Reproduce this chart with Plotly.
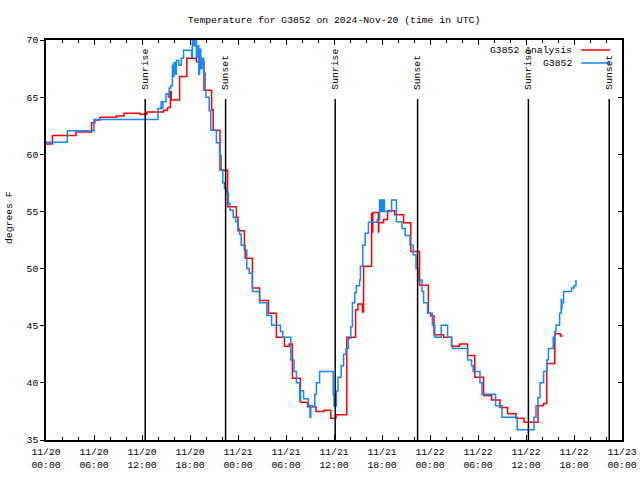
import pandas as pd
import plotly.graph_objects as go

BASE = pd.Timestamp("2024-11-20 00:00")

# Analysis series (step changes): hours since 11/20 00:00 UTC, degrees F
analysis_hours = [0, 0.8, 3.75, 5.7, 6.1, 6.75, 8.8, 9.75, 11.75, 12.6, 14.7, 15.2,
                  15.55, 15.65, 16.7, 17.6, 18.8, 19.75, 20.7, 20.9, 21.75, 22.7,
                  23.8, 24.0, 24.8, 24.9, 25.8, 26.7, 27.8, 28.8, 29.8, 30.4, 30.8,
                  31.8, 32.7, 33.75, 34.75, 35.6, 36.25, 37.6, 38.7, 39.0, 39.55,
                  39.7, 40.7, 40.75, 40.85, 41.55, 41.6, 42.2, 42.7, 43.6, 44.7,
                  45.6, 46.7, 47.8, 48.1, 48.5, 49.7, 50.7, 51.7, 52.7, 53.6, 54.7,
                  55.7, 56.75, 57.7, 58.75, 59.75, 61.5, 62.2, 62.6, 63.6, 64.3, 64.6]
analysis_temps = [60.9, 61.65, 61.95, 62.75, 63.0, 63.25, 63.35, 63.6, 63.5, 63.7, 63.85, 64.1,
                  65.5, 64.75, 66.8, 68.4, 68.1, 65.6, 63.9, 62.1, 58.6, 55.4,
                  54.5, 53.3, 51.6, 50.9, 48.3, 47.2, 46.1, 44.0, 43.2, 43.4, 40.4,
                  38.3, 37.9, 37.5, 37.6, 36.9, 37.2, 44.0, 46.4, 46.9, 46.2,
                  50.2, 54.8, 53.2, 54.9, 53.2, 54.0, 54.3, 55.05, 54.7, 54.0,
                  51.5, 48.55, 46.1, 45.85, 44.2, 44.0, 43.2, 43.4, 42.4, 40.5, 38.9,
                  38.5, 37.85, 37.3, 36.9, 36.55, 38.0, 38.2, 41.7, 44.3, 44.1, 44.1]

# Observed G3852 series (step changes)
obs_hours = [0, 2.67, 6.0, 14.0, 14.4, 14.5, 14.6, 15.0, 15.3, 15.4, 15.6, 15.8, 15.9,
             16.0, 16.2, 16.3, 16.6, 16.9, 17.2, 18.2, 18.3, 18.5, 18.6, 18.8, 19.0,
             19.1, 19.2, 19.35, 19.5, 19.7, 19.9, 20.0, 20.4, 20.6, 21.3, 21.7, 21.9,
             22.1, 22.3, 22.6, 22.8, 23.0, 23.4, 23.7, 24.0, 24.2, 24.4, 24.9, 25.1,
             25.4, 25.8, 26.7, 27.6, 28.2, 29.3, 29.6, 30.6, 31.0, 31.3, 31.7, 31.8,
             32.2, 32.8, 33.0, 33.1, 33.3, 33.6, 33.8, 34.2, 35.9, 36.0, 36.3, 36.5,
             36.9, 37.2, 37.5, 37.8, 38.1, 38.3, 38.6, 38.8, 39.2, 39.3, 39.6, 39.9,
             40.3, 41.4, 41.7, 41.8, 41.95, 42.05, 42.2, 42.3, 43.2, 43.8, 44.5, 44.9,
             45.5, 45.9, 46.25, 46.5, 47.0, 47.2, 47.7, 48.3, 48.6, 49.4, 50.2, 50.7,
             50.8, 52.7, 53.2, 53.4, 54.25, 54.5, 56.2, 57.0, 58.9, 61.0, 61.25, 61.5,
             61.75, 62.2, 62.6, 62.8, 63.4, 63.5, 63.6, 63.75, 64.2, 64.4, 64.45, 64.5,
             64.7, 65.7, 66.0, 66.25]
obs_temps = [61.05, 62.05, 63.05, 64.0, 64.6, 64.0, 64.6, 65.3, 65.0, 65.8, 66.0, 67.8, 66.8,
             68.0, 67.0, 68.2, 67.8, 68.4, 69.1, 68.5, 70.5, 69.5, 70.5, 68.5, 69.5,
             67.0, 69.2, 67.5, 68.4, 67.1, 65.6, 65.0, 63.8, 62.1, 61.0, 59.9, 58.6,
             57.5, 57.0, 56.6, 55.7, 55.1, 54.5, 54.1, 53.5, 53.0, 52.05, 51.6, 50.0,
             49.6, 48.0, 47.0, 45.9, 45.05, 44.5, 44.0, 42.0, 41.0, 40.0, 38.5, 39.3,
             38.6, 38.05, 37.0, 38.0, 37.9, 39.0, 40.0, 41.0, 39.0, 38.0, 39.3, 40.5,
             41.5, 42.5, 43.0, 43.9, 44.9, 47.0, 47.9, 48.5, 49.0, 50.2, 52.05, 53.1,
             54.05, 54.3, 56.0, 55.0, 56.0, 55.0, 56.0, 55.0, 56.0, 54.1, 53.5, 52.9,
             52.05, 51.2, 50.0, 49.0, 48.0, 47.0, 46.1, 45.05, 44.0, 45.05, 44.0, 43.3,
             43.0, 42.0, 41.5, 41.0, 40.0, 39.0, 38.0, 37.0, 35.9, 37.0, 38.0, 38.7,
             40.0, 41.0, 42.0, 43.0, 44.0, 43.5, 44.5, 45.05, 46.1, 47.3, 46.5, 47.0,
             48.0, 48.3, 48.5, 49.0]

sun_labels = ["Sunrise", "Sunset", "Sunrise", "Sunset", "Sunrise", "Sunset"]
sun_hours = [12.4, 22.45, 36.15, 46.45, 60.3, 70.4]

tick_hours = [0, 6, 12, 18, 24, 30, 36, 42, 48, 54, 60, 66, 72]
tick_labels = ["11/20<br>00:00", "11/20<br>06:00", "11/20<br>12:00", "11/20<br>18:00",
               "11/21<br>00:00", "11/21<br>06:00", "11/21<br>12:00", "11/21<br>18:00",
               "11/22<br>00:00", "11/22<br>06:00", "11/22<br>12:00", "11/22<br>18:00",
               "11/23<br>00:00"]
y_ticks = [35, 40, 45, 50, 55, 60, 65, 70]

series_names = ["G3852 Analysis", "G3852"]
series_colors = ["#ff0000", "#1188ff"]


def to_time(hours):
    return [BASE + pd.Timedelta(hours=h) for h in hours]


FONT = "Liberation Mono, DejaVu Sans Mono, monospace"
FS = 9.75
W, H = 640, 480

fig = go.Figure()
fig.add_trace(go.Scatter(x=to_time(analysis_hours), y=analysis_temps, mode="lines",
                         line=dict(color=series_colors[0], width=1.5, shape="hv"),
                         name=series_names[0], showlegend=False))
fig.add_trace(go.Scatter(x=to_time(obs_hours), y=obs_temps, mode="lines",
                         line=dict(color=series_colors[1], width=1.5, shape="hv"),
                         name=series_names[1], showlegend=False))
# helper trace for right-hand mirrored axis
fig.add_trace(go.Scatter(x=[None], y=[None], yaxis="y2", showlegend=False, hoverinfo="skip"))

shapes = []
annotations = []
for lab, h in zip(sun_labels, sun_hours):
    t = BASE + pd.Timedelta(hours=h)
    shapes.append(dict(type="line", xref="x", yref="paper", x0=t, x1=t, y0=0, y1=0.8525,
                       line=dict(color="black", width=1.5), layer="above"))
    annotations.append(dict(text=lab, xref="x", yref="paper", x=t, y=0.87,
                            xanchor="center", yanchor="bottom", textangle=-90,
                            showarrow=False, font=dict(family=FONT, size=FS, color="black")))

# gnuplot-style key (text right, sample line after)
key_y = [0.975, 0.9425]
for name, col, ky in zip(series_names, series_colors, key_y):
    annotations.append(dict(text=name, xref="paper", yref="paper", x=0.9167, y=ky,
                            xanchor="right", yanchor="middle", showarrow=False,
                            font=dict(family=FONT, size=FS, color="black")))
    shapes.append(dict(type="line", xref="paper", yref="paper", x0=0.9288, x1=0.9792,
                       y0=ky, y1=ky, line=dict(color=col, width=1.5), layer="above"))

annotations.append(dict(text="degrees F", xref="paper", yref="paper",
                        x=(10 - 46) / 576, y=(440 - 218) / 400, xanchor="center",
                        yanchor="middle", textangle=-90, showarrow=False,
                        font=dict(family=FONT, size=FS, color="black")))

fig.update_layout(
    width=W, height=H,
    margin=dict(l=46, r=18, t=40, b=40, autoexpand=False),
    paper_bgcolor="white", plot_bgcolor="white",
    font=dict(family=FONT, size=FS, color="black"),
    title=dict(text="Temperature for G3852 on 2024-Nov-20 (time in UTC)",
               x=0.5, xref="paper", xanchor="center",
               y=1 - 20 / H, yref="container", yanchor="middle", automargin=False,
               font=dict(family=FONT, size=FS, color="black")),
    xaxis=dict(type="date", range=[BASE, BASE + pd.Timedelta(hours=72)],
               tickvals=to_time(tick_hours), ticktext=tick_labels, automargin=False,
               ticks="inside", ticklen=5, tickwidth=1, tickcolor="black",
               showline=True, linecolor="black", linewidth=1.5, mirror="ticks",
               showgrid=False, zeroline=False, ticklabelstandoff=2,
               ticklabeloverflow="allow",
               minor=dict(ticks="inside", ticklen=3, tickcolor="black",
                          dtick=2 * 3600 * 1000, tick0=BASE, showgrid=False),
               tickfont=dict(family=FONT, size=FS, color="black")),
    yaxis=dict(range=[35, 70], tickvals=y_ticks, ticks="outside", ticklen=4,
               tickcolor="black", showline=True, linecolor="black", linewidth=1.5,
               mirror=False, showgrid=False, zeroline=False, automargin=False,
               tickfont=dict(family=FONT, size=FS, color="black")),
    yaxis2=dict(range=[35, 70], overlaying="y", side="right", tickvals=y_ticks,
                ticks="inside", ticklen=4, tickcolor="black", showticklabels=False,
                showline=True, linecolor="black", linewidth=1.5, showgrid=False,
                zeroline=False, automargin=False),
    shapes=shapes,
    annotations=annotations,
    showlegend=False,
)

fig.write_html(
    "out.html",
    config={"displayModeBar": False},
    post_script="document.body.style.margin='0';document.body.style.overflow='hidden';",
)
